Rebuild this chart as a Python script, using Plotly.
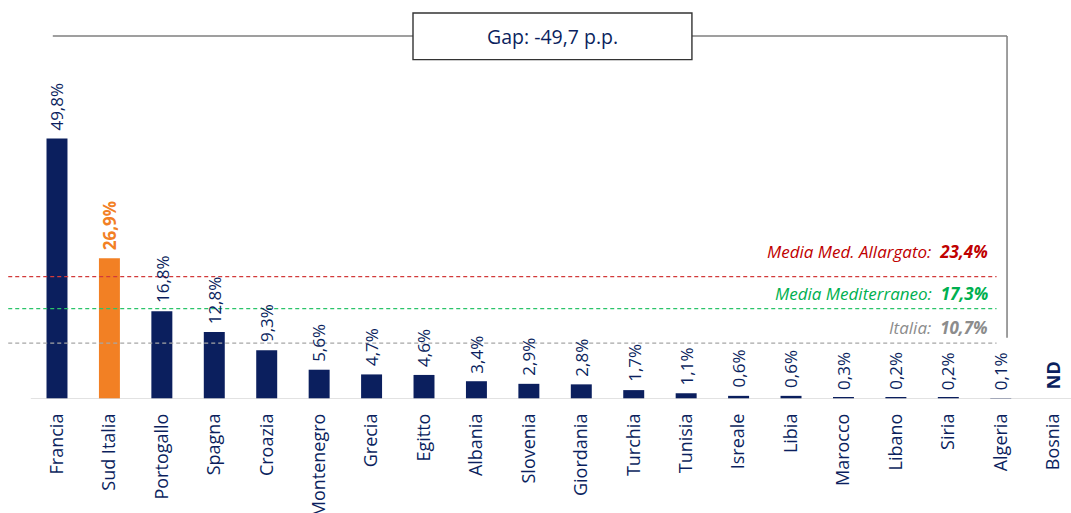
import plotly.graph_objects as go

categories = ["Francia", "Sud Italia", "Portogallo", "Spagna", "Croazia", "Montenegro",
              "Grecia", "Egitto", "Albania", "Slovenia", "Giordania", "Turchia",
              "Tunisia", "Isreale", "Libia", "Marocco", "Libano", "Siria", "Algeria", "Bosnia"]
values = [49.8, 26.9, 16.8, 12.8, 9.3, 5.6, 4.7, 4.6, 3.4, 2.9, 2.8, 1.7,
          1.1, 0.6, 0.6, 0.3, 0.2, 0.2, 0.1, None]
value_labels = ["49,8%", "26,9%", "16,8%", "12,8%", "9,3%", "5,6%", "4,7%", "4,6%", "3,4%",
                "2,9%", "2,8%", "1,7%", "1,1%", "0,6%", "0,6%", "0,3%", "0,2%", "0,2%", "0,1%", "ND"]
highlight = "Sud Italia"

ref_names = ["Media Med. Allargato:", "Media Mediterraneo:", "Italia:"]
ref_values = [23.4, 17.3, 10.7]
ref_labels = ["23,4%", "17,3%", "10,7%"]
ref_colors = ["#C00000", "#00B050", "#8C8C8C"]
ref_line_colors = ["#D23A3A", "#2BC46A", "#A6A6A6"]
ref_shift = [25, 15, 16]

gap_text = "Gap: -49,7 p.p."

NAVY = "#0B1F5E"
ORANGE = "#F28024"
FONT = "Open Sans"

bar_colors = [ORANGE if c == highlight else NAVY for c in categories]

fig = go.Figure()
fig.add_trace(go.Bar(
    x=categories, y=values, marker=dict(color=bar_colors, line=dict(width=0)),
    width=0.4, hoverinfo="skip"))

annotations = []
for c, v, t in zip(categories, values, value_labels):
    if v is None:
        annotations.append(dict(x=c, y=0, text="<b>" + t + "</b>", textangle=-90, showarrow=False,
                                yanchor="bottom", yshift=8, font=dict(family=FONT, size=18, color=NAVY)))
    else:
        hl = c == highlight
        annotations.append(dict(x=c, y=v, text=("<b>" + t + "</b>") if hl else t, textangle=-90,
                                showarrow=False, yanchor="bottom", yshift=6,
                                font=dict(family=FONT, size=17, color=ORANGE if hl else NAVY)))

shapes = []
# baseline
shapes.append(dict(type="line", xref="x", yref="y", x0=-0.5, x1=19.4, y0=0, y1=0,
                   line=dict(color="#D9D9D9", width=1.5)))
for name, val, lab, col, lcol, sh in zip(ref_names, ref_values, ref_labels, ref_colors,
                                          ref_line_colors, ref_shift):
    shapes.append(dict(type="line", xref="x", yref="y", x0=-0.93, x1=17.92, y0=val, y1=val,
                       line=dict(color=lcol, width=1.3, dash="4px,3px")))
    annotations.append(dict(x=17.8, y=val, xanchor="right", yanchor="middle", yshift=sh,
                            text="<i>" + name + "  <b>" + lab + "</b></i>", showarrow=False,
                            font=dict(family=FONT, size=17, color=col)))

# gap bracket
shapes.append(dict(type="line", xref="x", yref="y", x0=-0.08, x1=18.12, y0=69.4, y1=69.4,
                   line=dict(color="#7F7F7F", width=1.5), layer="below"))
shapes.append(dict(type="line", xref="x", yref="y", x0=18.12, x1=18.12, y0=69.4, y1=11.7,
                   line=dict(color="#7F7F7F", width=1.5), layer="below"))
shapes.append(dict(type="rect", xref="x", yref="y", x0=6.79, x1=12.11, y0=64.9, y1=73.8,
                   fillcolor="white", line=dict(color="#333333", width=1.4)))
annotations.append(dict(x=9.45, y=69.4, text=gap_text, showarrow=False, xanchor="center",
                        yanchor="middle", font=dict(family=FONT, size=19.5, color=NAVY)))

fig.update_layout(
    width=1071, height=513,
    margin=dict(l=0, r=0, t=0, b=114, autoexpand=False),
    paper_bgcolor="white", plot_bgcolor="white",
    showlegend=False,
    shapes=shapes, annotations=annotations,
    font=dict(family=FONT, color=NAVY),
    xaxis=dict(range=[-1.087, 19.34], tickangle=-90, showgrid=False, zeroline=False,
               showline=False, ticks="", ticklabelstandoff=10, automargin=False,
               tickfont=dict(family=FONT, size=18, color=NAVY)),
    yaxis=dict(range=[0, 76.3], visible=False, automargin=False),
)

fig.write_html("out.html", config={"displayModeBar": False},
               post_script="document.body.style.margin='0';document.body.style.overflow='hidden';")
